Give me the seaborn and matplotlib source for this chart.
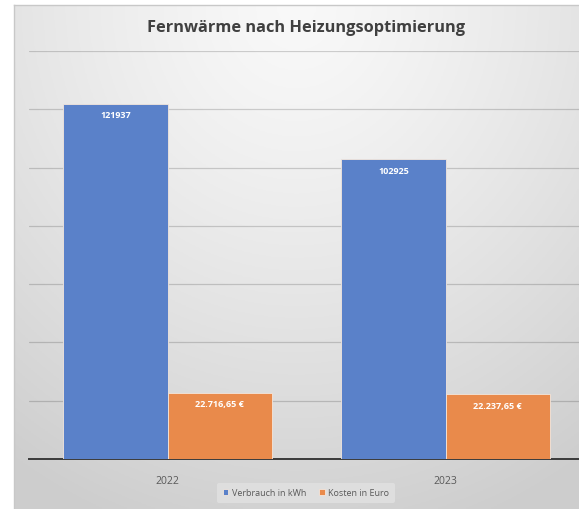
import numpy as np
import pandas as pd
import matplotlib
matplotlib.use("Agg")
import matplotlib.pyplot as plt
import seaborn as sns

years = ["2022", "2023"]
series = ["Verbrauch in kWh", "Kosten in Euro"]
verbrauch = [121937, 102925]
kosten = [22716.65, 22237.65]
verbrauch_labels = ["121937", "102925"]
kosten_labels = ["22.716,65 €", "22.237,65 €"]

df = pd.DataFrame({
    "Jahr": years * 2,
    "Reihe": [series[0]] * 2 + [series[1]] * 2,
    "Wert": verbrauch + kosten,
})

sns.set_theme(style="white")
plt.rcParams["font.family"] = ["Open Sans", "DejaVu Sans"]

W, H = 579, 509
fig = plt.figure(figsize=(W / 100, H / 100), dpi=100)

# gradient background of the chart area
bg = fig.add_axes([14 / W, 0, 1 - 14 / W, (H - 5) / H], zorder=0)
yy, xx = np.mgrid[0:200, 0:200]
cx, cy = 0.5, 0.0
d = np.sqrt(((xx / 199 - cx) / 0.9) ** 2 + ((yy / 199 - cy) / 1.1) ** 2)
d = np.clip(d, 0, 1)
grey = 0.975 - 0.17 * d ** 1.3
bg.imshow(np.dstack([grey, grey, grey]), aspect="auto", extent=[0, 1, 0, 1], origin="upper")
bg.set_xticks([])
bg.set_yticks([])
for side in ["right", "bottom"]:
    bg.spines[side].set_visible(False)
for side in ["top", "left"]:
    bg.spines[side].set_color("#c8c8c8")
    bg.spines[side].set_linewidth(1)

ax = fig.add_axes([28.5 / W, 50 / H, 556 / W, 408 / H], zorder=1)
ax.patch.set_alpha(0)

sns.barplot(data=df, x="Jahr", y="Wert", hue="Reihe", ax=ax,
            palette=["#5a81c9", "#e98a4b"], width=0.75, saturation=1,
            edgecolor="#f3e6dc", linewidth=0.6, zorder=3)

ax.set_xlim(-0.5, 1.5)
ax.set_ylim(0, 140000)
ax.set_yticks(np.arange(20000, 140001, 20000))
ax.yaxis.grid(True, color="black", alpha=0.17, linewidth=0.9, zorder=0)
ax.set_axisbelow(True)
ax.tick_params(axis="y", left=False, labelleft=False)
ax.tick_params(axis="x", bottom=False, colors="#595959", labelsize=7.5, pad=6)
ax.set_xlabel("")
ax.set_ylabel("")
for side in ["top", "right", "left"]:
    ax.spines[side].set_visible(False)
ax.spines["bottom"].set_color("#3a3a3a")
ax.spines["bottom"].set_linewidth(1.4)

ax.bar_label(ax.containers[0], labels=verbrauch_labels, padding=-12,
             color="white", fontsize=6.5, fontweight="bold")
ax.bar_label(ax.containers[1], labels=kosten_labels, padding=-12,
             color="white", fontsize=6.5, fontweight="bold")

leg = ax.legend(loc="center", bbox_to_anchor=(306 / W, 16 / H),
                bbox_transform=fig.transFigure, ncol=2, frameon=True,
                fontsize=6.5, handlelength=0.6, handleheight=0.6,
                columnspacing=1.5, handletextpad=0.4, borderpad=0.6)
leg.get_frame().set_facecolor("#dedede")
leg.get_frame().set_edgecolor("none")
leg.get_frame().set_alpha(1)
for t in leg.get_texts():
    t.set_color("#595959")

fig.text(306 / W, 1 - 28 / H, "Fernwärme nach Heizungsoptimierung",
         ha="center", va="center", fontsize=11.8, fontweight="bold", color="#404040")

fig.savefig("out.png", dpi=100)
